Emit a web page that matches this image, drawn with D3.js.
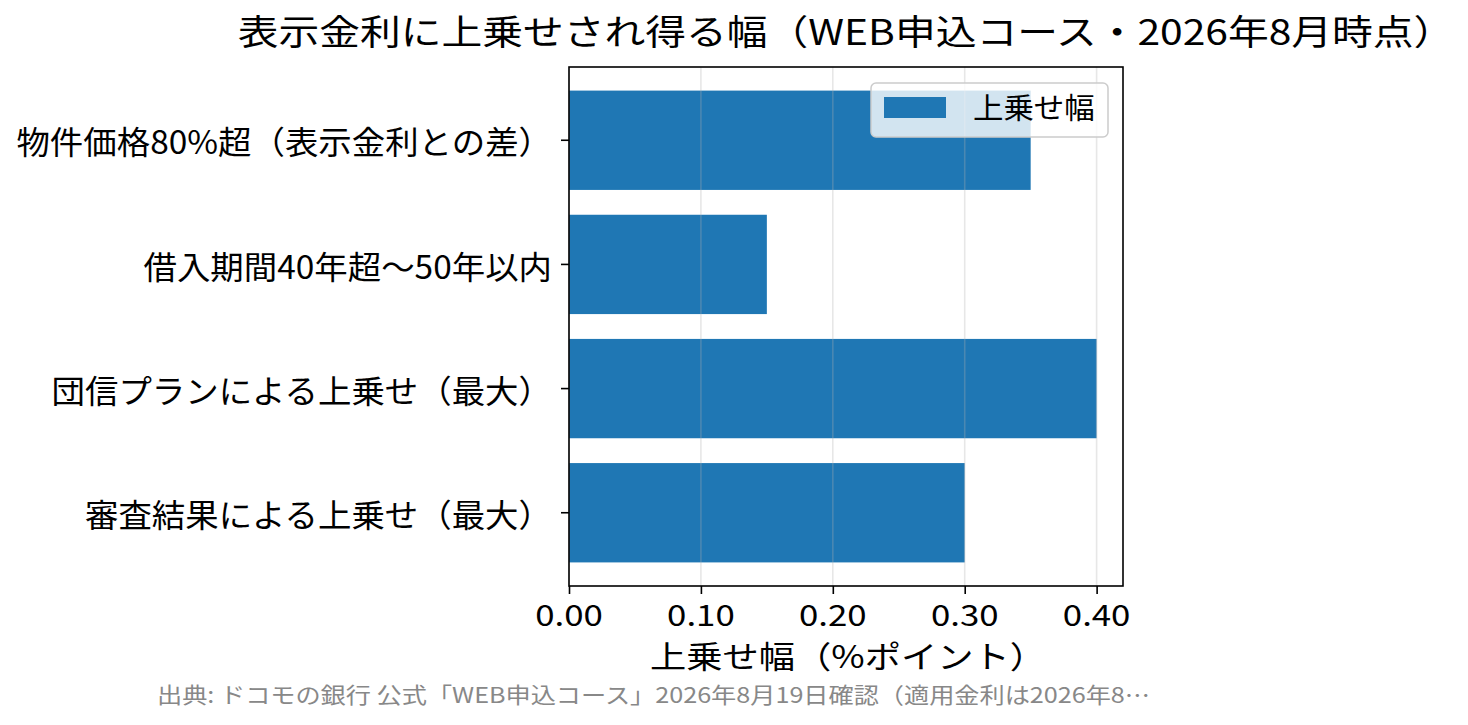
<!DOCTYPE html>
<html><head><meta charset="utf-8">
<script src="https://cdn.jsdelivr.net/npm/d3@7"></script>
<style>
html,body{margin:0;padding:0;background:#fff;}
text{font-family:"Noto Sans CJK JP","Noto Sans",sans-serif;}
</style></head>
<body><svg id="c" width="1468" height="725"></svg>
<script>
const categories = ["物件価格80%超（表示金利との差）","借入期間40年超〜50年以内","団信プランによる上乗せ（最大）","審査結果による上乗せ（最大）"];
const values = [0.35, 0.15, 0.40, 0.30];
const xTicks = [0.0, 0.1, 0.2, 0.3, 0.4];
const seriesName = "上乗せ幅";
const titleText = "表示金利に上乗せされ得る幅（WEB申込コース・2026年8月時点）";
const xLabel = "上乗せ幅（%ポイント）";
const sourceText = "出典: ドコモの銀行 公式「WEB申込コース」2026年8月19日確認（適用金利は2026年8…";

const svg = d3.select("#c");
const L = 569, R = 1123, T = 67, B = 586;
const x = d3.scaleLinear().domain([0, 0.42]).range([L, R]);
const n = categories.length;
const yl = d3.scaleLinear().domain([-0.59, n - 1 + 0.59]).range([T, B]);
const color = "#1f77b4";

// helper: horizontally widened text (reference font is wider than Noto CJK)
function wtext(parent, px, py, str, size, sx, anchor, fill, dy) {
  const g = parent.append("g").attr("transform", `translate(${px},${py}) scale(${sx},1)`);
  const t = g.append("text").attr("x", 0).attr("y", 0).attr("text-anchor", anchor || "start")
    .attr("font-size", size).attr("fill", fill || "#000").text(str);
  if (dy) t.attr("dy", dy);
  return t;
}

// bars
svg.append("g").selectAll("rect").data(values).join("rect")
  .attr("x", x(0)).attr("y", (d,i)=>yl(i-0.4))
  .attr("width", d=>x(d)-x(0)).attr("height", yl(0.4)-yl(-0.4))
  .attr("fill", color);

// grid (on top, light)
svg.append("g").selectAll("line").data(xTicks).join("line")
  .attr("x1", d=>x(d)).attr("x2", d=>x(d)).attr("y1", T).attr("y2", B)
  .attr("stroke", "#b0b0b0").attr("stroke-opacity", 0.3).attr("stroke-width", 1.6);

// frame
svg.append("rect").attr("x", L).attr("y", T).attr("width", R-L).attr("height", B-T)
  .attr("fill","none").attr("stroke","#000").attr("stroke-width",1.6);

// x axis (ticks via d3 axis, labels widened)
const xa = svg.append("g").attr("transform", `translate(0,${B})`)
  .call(d3.axisBottom(x).tickValues(xTicks).tickFormat("").tickSizeOuter(0).tickSize(8));
xa.select(".domain").remove();
xa.selectAll("line").attr("stroke","#000").attr("stroke-width",1.6);
const fmt = d3.format(".2f");
xTicks.forEach(v => wtext(svg, x(v), B + 40, fmt(v), 29, 1.2, "middle"));

// y axis
const ya = svg.append("g");
categories.forEach((c,i)=>{
  const yy = yl(i);
  ya.append("line").attr("x1", L-8).attr("x2", L).attr("y1", yy).attr("y2", yy).attr("stroke","#000").attr("stroke-width",1.6);
  wtext(ya, L-17, yy, c, 32, 1.045, "end", "#000", "0.44em");
});

// title
wtext(svg, 846, 45, titleText, 35, 1.165, "middle");

// x label
wtext(svg, 848, 668, xLabel, 31, 1.17, "middle");

// source
wtext(svg, 157, 703, sourceText, 22, 1.145, "start", "#888");

// legend
const lg = svg.append("g");
lg.append("rect").attr("x", 871).attr("y", 83).attr("width", 237).attr("height", 54).attr("rx", 5)
  .attr("fill","#fff").attr("fill-opacity",0.8).attr("stroke","#ccc").attr("stroke-width",1.5);
lg.append("rect").attr("x", 884).attr("y", 97).attr("width", 62).attr("height", 21).attr("fill", color);
wtext(lg, 973, 107, seriesName, 29, 1.05, "start", "#000", "0.4em");
</script></body></html>
